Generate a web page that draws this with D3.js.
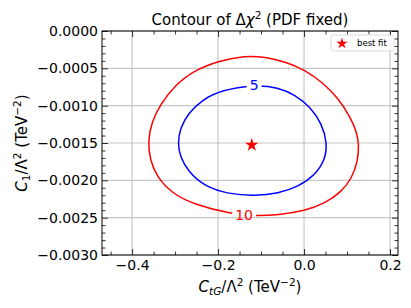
<!DOCTYPE html>
<html>
<head>
<meta charset="utf-8">
<script src="https://cdn.jsdelivr.net/npm/d3@7"></script>
<style>
  body { margin: 0; background: #fff; }
  svg { font-family: "DejaVu Sans", sans-serif; }
</style>
</head>
<body>
<div class="chart"></div>
<script>
// contour Δχ² = 5 (blue)
const contour5 = [
  [-0.1163, -0.000723], [-0.1914, -0.000790], [-0.2379, -0.000924], [-0.2691, -0.001102],
  [-0.2884, -0.001303], [-0.2937, -0.001504], [-0.2884, -0.001683], [-0.2691, -0.001884],
  [-0.2302, -0.002085], [-0.1760, -0.002183], [-0.1140, -0.002210], [-0.0598, -0.002174],
  [-0.0133, -0.002085], [0.0256, -0.001929], [0.0488, -0.001728], [0.0542, -0.001504],
  [0.0412, -0.001236], [0.0140, -0.001014], [-0.0209, -0.000857], [-0.0598, -0.000754]
];
// contour Δχ² = 10 (red)
const contour10 = [
  [-0.1977, -0.000398], [-0.2535, -0.000522], [-0.3000, -0.000723], [-0.3349, -0.000991],
  [-0.3542, -0.001215], [-0.3635, -0.001483], [-0.3581, -0.001728], [-0.3426, -0.001951],
  [-0.3077, -0.002174], [-0.2535, -0.002330], [-0.1681, -0.002451], [-0.1140, -0.002478],
  [-0.0598, -0.002464], [0.0023, -0.002407], [0.0488, -0.002308], [0.0877, -0.002152],
  [0.1109, -0.001973], [0.1249, -0.001750], [0.1279, -0.001527], [0.1226, -0.001349],
  [0.1070, -0.001148], [0.0798, -0.000901], [0.0412, -0.000679], [0.0023, -0.000522],
  [-0.0442, -0.000411], [-0.0907, -0.000348], [-0.1372, -0.000331]
];
const levels = [
  { name: '5', pts: contour5, color: '#0000ff', label: [-0.116, -0.000723] },
  { name: '10', pts: contour10, color: '#ff0000', label: [-0.1395, -0.00246] }
];
const bestFit = [-0.1216, -0.001527];
const xDomain = [-0.47, 0.2186];
const yDomain = [-0.003, 0];
const xTicks = [-0.4, -0.2, 0.0, 0.2];
const xMinor = [-0.45, -0.35, -0.3, -0.25, -0.15, -0.1, -0.05, 0.05, 0.1, 0.15];
const yTicks = [0, -0.0005, -0.001, -0.0015, -0.002, -0.0025, -0.003];
const yMinor = d3.range(1, 30).filter(i => i % 5 !== 0).map(i => -i * 0.0001);

const W = 411, H = 308;
const margin = { top: 31, right: 13, bottom: 53, left: 102 };
const iw = W - margin.left - margin.right, ih = H - margin.top - margin.bottom;

const svg = d3.select('.chart').append('svg').attr('width', W).attr('height', H);
const g = svg.append('g').attr('transform', `translate(${margin.left},${margin.top})`);

const x = d3.scaleLinear().domain(xDomain).range([0, iw]);
const y = d3.scaleLinear().domain(yDomain).range([ih, 0]);

g.append('clipPath').attr('id', 'clip').append('rect').attr('width', iw).attr('height', ih);

// grid
g.selectAll('.gx').data(xTicks).enter().append('line')
  .attr('x1', d => x(d)).attr('x2', d => x(d)).attr('y1', 0).attr('y2', ih)
  .attr('stroke', '#b0b0b0').attr('stroke-opacity', 0.7).attr('stroke-width', 1.2);
g.selectAll('.gy').data(yTicks).enter().append('line')
  .attr('y1', d => y(d)).attr('y2', d => y(d)).attr('x1', 0).attr('x2', iw)
  .attr('stroke', '#b0b0b0').attr('stroke-opacity', 0.7).attr('stroke-width', 1.2);

const fmtY = v => (v === 0 ? '0.0000' : d3.format('.4f')(v).replace('-', '\u2212'));
const fmtX = v => d3.format('.1f')(v).replace('-', '\u2212');

function styleAxis(sel, size) {
  sel.select('.domain').remove();
  sel.selectAll('line').attr('stroke', '#000').attr('stroke-width', 0.8);
  sel.selectAll('text').attr('font-size', size).attr('font-family', '"DejaVu Sans", sans-serif').attr('fill', '#000');
}

// axes, ticks pointing inward on all sides
g.append('g').attr('transform', `translate(0,${ih})`)
  .call(d3.axisBottom(x).tickValues(xTicks).tickFormat(fmtX).tickSize(-6).tickPadding(5))
  .call(s => styleAxis(s, 14));
g.append('g').attr('transform', `translate(0,${ih})`)
  .call(d3.axisBottom(x).tickValues(xMinor).tickFormat('').tickSize(-3.5))
  .call(s => styleAxis(s, 14));
g.append('g')
  .call(d3.axisTop(x).tickValues(xTicks).tickFormat('').tickSize(-6))
  .call(s => styleAxis(s, 14));
g.append('g')
  .call(d3.axisTop(x).tickValues(xMinor).tickFormat('').tickSize(-3.5))
  .call(s => styleAxis(s, 14));
g.append('g')
  .call(d3.axisLeft(y).tickValues(yTicks).tickFormat(fmtY).tickSize(-6).tickPadding(4))
  .call(s => styleAxis(s, 14));
g.append('g')
  .call(d3.axisLeft(y).tickValues(yMinor).tickFormat('').tickSize(-3.5))
  .call(s => styleAxis(s, 14));
g.append('g').attr('transform', `translate(${iw},0)`)
  .call(d3.axisRight(y).tickValues(yTicks).tickFormat('').tickSize(-6))
  .call(s => styleAxis(s, 14));
g.append('g').attr('transform', `translate(${iw},0)`)
  .call(d3.axisRight(y).tickValues(yMinor).tickFormat('').tickSize(-3.5))
  .call(s => styleAxis(s, 14));

// contour labels first so their boxes can cut the lines
const defs = svg.append('defs');
const line = d3.line().x(d => x(d[0])).y(d => y(d[1])).curve(d3.curveBasisClosed);
const plot = g.append('g').attr('clip-path', 'url(#clip)');

levels.forEach((lv, i) => {
  const lab = g.append('text')
    .attr('x', x(lv.label[0])).attr('y', y(lv.label[1]))
    .attr('text-anchor', 'middle').attr('dy', '0.36em')
    .attr('font-size', 14).attr('fill', lv.color).text(lv.name);
  const bb = lab.node().getBBox();
  const m = defs.append('mask').attr('id', 'm' + i).attr('maskUnits', 'userSpaceOnUse')
    .attr('x', -margin.left).attr('y', -margin.top).attr('width', W).attr('height', H);
  m.append('rect').attr('x', -margin.left).attr('y', -margin.top).attr('width', W).attr('height', H).attr('fill', '#fff');
  m.append('rect').attr('x', bb.x - 3).attr('y', bb.y).attr('width', bb.width + 6).attr('height', bb.height).attr('fill', '#000');
  plot.append('path').datum(lv.pts)
    .attr('d', line).attr('fill', 'none').attr('stroke', lv.color).attr('stroke-width', 1.5)
    .attr('mask', `url(#m${i})`);
});

// best fit star
const star = d3.symbol().type(d3.symbolStar).size(55);
g.append('path').attr('d', star)
  .attr('transform', `translate(${x(bestFit[0])},${y(bestFit[1])})`)
  .attr('fill', '#ff0000');

// frame
g.append('rect').attr('width', iw).attr('height', ih).attr('fill', 'none').attr('stroke', '#000').attr('stroke-width', 1);

// legend
const lg = g.append('g').attr('transform', `translate(${iw - 67},4)`);
lg.append('rect').attr('width', 63).attr('height', 16).attr('rx', 2.5)
  .attr('fill', '#fff').attr('fill-opacity', 0.8).attr('stroke', '#d0d0d0').attr('stroke-width', 0.8);
lg.append('path').attr('d', d3.symbol().type(d3.symbolStar).size(40))
  .attr('transform', 'translate(11,8.5)').attr('fill', '#ff0000');
lg.append('text').attr('x', 26).attr('y', 8).attr('dy', '0.36em').attr('font-size', 8.5).text('best fit');

// title
svg.append('text').attr('x', margin.left + iw / 2).attr('y', 25).attr('text-anchor', 'middle')
  .attr('font-size', 15)
  .call(t => {
    t.append('tspan').text('Contour of \u0394');
    t.append('tspan').attr('font-style', 'italic').text('\u03c7');
    t.append('tspan').attr('font-size', 10.5).attr('dy', -6).text('2');
    t.append('tspan').attr('dy', 6).text(' (PDF fixed)');
  });

// x label
svg.append('text').attr('x', margin.left + iw / 2).attr('y', 292).attr('text-anchor', 'middle')
  .attr('font-size', 15)
  .call(t => {
    t.append('tspan').attr('font-style', 'italic').text('C');
    t.append('tspan').attr('font-style', 'italic').attr('font-size', 10.5).attr('dy', 3).text('tG');
    t.append('tspan').attr('dy', -3).text('/\u039b');
    t.append('tspan').attr('font-size', 10.5).attr('dy', -6).text('2');
    t.append('tspan').attr('dy', 6).text(' (TeV');
    t.append('tspan').attr('font-size', 10.5).attr('dy', -6).text('\u22122');
    t.append('tspan').attr('dy', 6).text(')');
  });

// y label
svg.append('text').attr('transform', `translate(27,${margin.top + ih / 2}) rotate(-90)`).attr('text-anchor', 'middle')
  .attr('font-size', 15)
  .call(t => {
    t.append('tspan').attr('font-style', 'italic').text('C');
    t.append('tspan').attr('font-size', 10.5).attr('dy', 3).text('1');
    t.append('tspan').attr('dy', -3).text('/\u039b');
    t.append('tspan').attr('font-size', 10.5).attr('dy', -6).text('2');
    t.append('tspan').attr('dy', 6).text(' (TeV');
    t.append('tspan').attr('font-size', 10.5).attr('dy', -6).text('\u22122');
    t.append('tspan').attr('dy', 6).text(')');
  });
</script>
</body>
</html>
